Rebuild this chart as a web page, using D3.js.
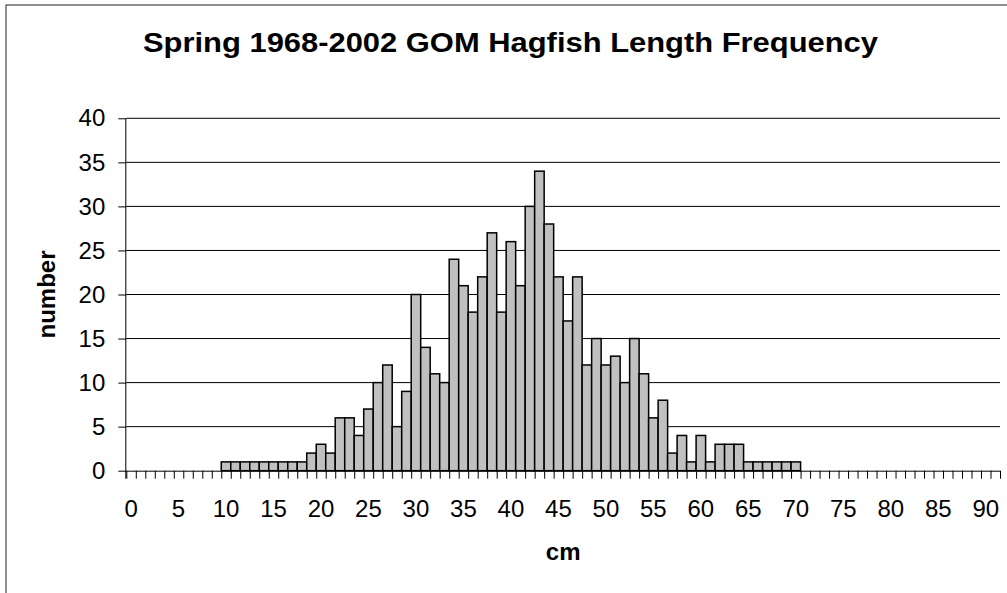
<!DOCTYPE html>
<html>
<head>
<meta charset="utf-8">
<script src="https://cdn.jsdelivr.net/npm/d3@7"></script>
<style>
  body { margin: 0; background: #fff; }
  svg { display: block; font-family: Arial, "Liberation Sans", sans-serif; }
</style>
</head>
<body>
<svg id="chart"></svg>
<script>
// length classes (cm) and fish counts
const lengths = [
  0, 1, 2, 3, 4, 5, 6, 7, 8, 9, 10, 11, 12, 13, 14, 15, 16, 17, 18, 19,
  20, 21, 22, 23, 24, 25, 26, 27, 28, 29, 30, 31, 32, 33, 34, 35, 36, 37, 38, 39,
  40, 41, 42, 43, 44, 45, 46, 47, 48, 49, 50, 51, 52, 53, 54, 55, 56, 57, 58, 59,
  60, 61, 62, 63, 64, 65, 66, 67, 68, 69, 70, 71, 72, 73, 74, 75, 76, 77, 78, 79,
  80, 81, 82, 83, 84, 85, 86, 87, 88, 89, 90, 91
];
const counts = [
  0, 0, 0, 0, 0, 0, 0, 0, 0, 0, 1, 1, 1, 1, 1, 1, 1, 1, 1, 2,
  3, 2, 6, 6, 4, 7, 10, 12, 5, 9, 20, 14, 11, 10, 24, 21, 18, 22, 27, 18,
  26, 21, 30, 34, 28, 22, 17, 22, 12, 15, 12, 13, 10, 15, 11, 6, 8, 2, 4, 1,
  4, 1, 3, 3, 3, 1, 1, 1, 1, 1, 1, 0, 0, 0, 0, 0, 0, 0, 0, 0,
  0, 0, 0, 0, 0, 0, 0, 0, 0, 0, 0, 0
];
const yTicks = [0, 5, 10, 15, 20, 25, 30, 35, 40];
const xLabels = [0, 5, 10, 15, 20, 25, 30, 35, 40, 45, 50, 55, 60, 65, 70, 75, 80, 85, 90];

const width = 1007, height = 593;
const plot = { left: 126.3, right: 1000, top: 118.3, bottom: 470.7 };

const svg = d3.select("#chart").attr("width", width).attr("height", height);

// chart frame (runs off the right and bottom of the picture)
svg.append("rect")
  .attr("x", 6).attr("y", 5)
  .attr("width", 1100).attr("height", 700)
  .attr("fill", "#fff")
  .attr("stroke", "#222")
  .attr("stroke-width", 1);

const x = d3.scaleBand().domain(lengths).range([plot.left, plot.right]).padding(0);
const xEdge = d3.scaleLinear().domain([0, lengths.length]).range([plot.left, plot.right]);
const y = d3.scaleLinear().domain([0, 40]).range([plot.bottom, plot.top]);

// gridlines
svg.append("g")
  .selectAll("line")
  .data(yTicks.filter((d) => d > 0))
  .join("line")
  .attr("x1", plot.left).attr("x2", plot.right)
  .attr("y1", (d) => y(d)).attr("y2", (d) => y(d))
  .attr("stroke", "#000")
  .attr("stroke-width", 1);

// bars
svg.append("g")
  .selectAll("rect")
  .data(lengths.map((l, i) => ({ l, n: counts[i] })).filter((d) => d.n > 0))
  .join("rect")
  .attr("x", (d) => x(d.l))
  .attr("y", (d) => y(d.n))
  .attr("width", x.bandwidth())
  .attr("height", (d) => y(0) - y(d.n))
  .attr("fill", "#c0c0c0")
  .attr("stroke", "#000")
  .attr("stroke-width", 1.5);

// y axis
svg.append("g")
  .attr("transform", `translate(${plot.left},0)`)
  .call(d3.axisLeft(y).tickValues(yTicks).tickSize(8).tickPadding(13))
  .call((g) => g.select(".domain").attr("d", `M-0.5,${plot.top}V${plot.bottom + 8}`))
  .call((g) => g.selectAll("text").attr("font-size", 24).attr("fill", "#000").attr("font-family", null))
  .call((g) => g.selectAll("line").attr("stroke", "#000"));

// x axis tick marks at class boundaries
svg.append("g")
  .attr("transform", `translate(0,${plot.bottom})`)
  .call(d3.axisBottom(xEdge).tickValues(d3.range(0, lengths.length + 1)).tickSize(8).tickFormat(""))
  .call((g) => g.select(".domain").attr("d", `M${plot.left},0.5H${plot.right}`).attr("stroke", "#000"))
  .call((g) => g.selectAll("line").attr("stroke", "#000"));

// x axis labels, centred on classes
svg.append("g")
  .attr("transform", `translate(0,${plot.bottom})`)
  .call(d3.axisBottom(x).tickValues(xLabels).tickSize(0).tickPadding(29))
  .call((g) => g.select(".domain").remove())
  .call((g) => g.selectAll("text").attr("font-size", 24).attr("fill", "#000").attr("font-family", null));

// title
svg.append("text")
  .attr("x", 510.5).attr("y", 52)
  .attr("text-anchor", "middle")
  .attr("font-size", 28)
  .attr("font-weight", "bold")
  .attr("textLength", 735)
  .attr("lengthAdjust", "spacingAndGlyphs")
  .text("Spring 1968-2002 GOM Hagfish Length Frequency");

// axis titles
svg.append("text")
  .attr("x", (plot.left + plot.right) / 2).attr("y", 560)
  .attr("text-anchor", "middle")
  .attr("font-size", 24)
  .attr("font-weight", "bold")
  .text("cm");

svg.append("text")
  .attr("transform", `translate(55,${(plot.top + plot.bottom) / 2}) rotate(-90)`)
  .attr("text-anchor", "middle")
  .attr("font-size", 24)
  .attr("font-weight", "bold")
  .text("number");
</script>
</body>
</html>
